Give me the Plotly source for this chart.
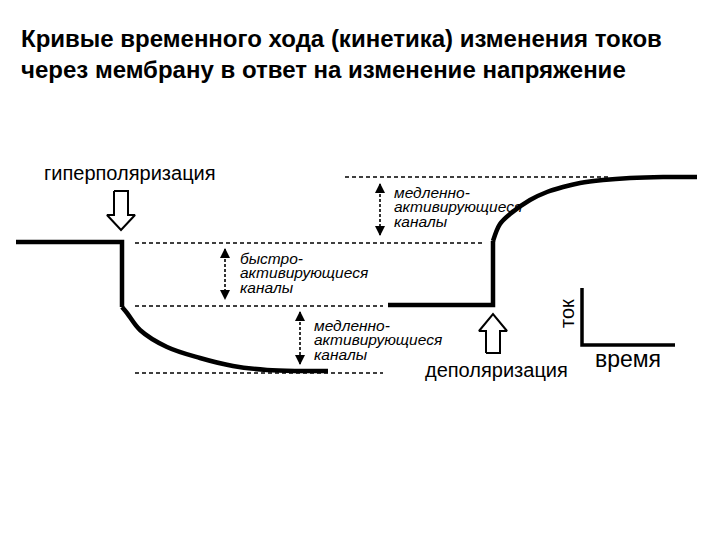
import plotly.graph_objects as go

# ---- data (pixel-like units: x = time, y = current, y grows downward) ----
hyper_step_x = [16, 122, 122]
hyper_step_y = [242, 242, 307]
hyper_decay_x = [122, 127, 140, 167, 200, 233, 267, 300, 328]
hyper_decay_y = [307, 313, 330, 347, 358, 366, 370, 371, 371]

depol_step_x = [388, 493, 493]
depol_step_y = [305, 305, 241]
depol_rise_x = [493, 500, 510, 530, 547, 563, 580, 603, 630, 663, 697]
depol_rise_y = [241, 224, 214, 200, 192, 187, 183, 180, 178, 177, 177]

level_y = [177, 243, 306, 373]           # dashed reference levels
level_x0 = [345, 135, 135, 135]
level_x1 = [610, 483, 383, 383]

span_x = [380, 225, 300]                 # double arrows
span_top = [180, 245, 308]
span_bot = [239, 303, 368]
span_label_x = [392, 238, 312]
span_label_lines = [
    ["медленно-", "активирующиеся", "каналы"],
    ["быстро-", "активирующиеся", "каналы"],
    ["медленно-", "активирующиеся", "каналы"],
]

title_lines = ["Кривые временного хода (кинетика) изменения токов",
               "через мембрану в ответ на изменение напряжение"]

fig = go.Figure()
BLACK = "#000000"

# dashed levels
for y, a, b in zip(level_y, level_x0, level_x1):
    fig.add_trace(go.Scatter(x=[a, b], y=[y, y], mode="lines",
                             line=dict(color=BLACK, width=1.6, dash="4px,3px"),
                             hoverinfo="skip"))

# curves
for xs, ys, shape in [(hyper_step_x, hyper_step_y, "linear"),
                      (hyper_decay_x, hyper_decay_y, "spline"),
                      (depol_step_x, depol_step_y, "linear"),
                      (depol_rise_x, depol_rise_y, "spline")]:
    fig.add_trace(go.Scatter(x=xs, y=ys, mode="lines",
                             line=dict(color=BLACK, width=4.5, shape=shape),
                             hoverinfo="skip"))

# dotted double arrows
for x, t, b in zip(span_x, span_top, span_bot):
    fig.add_trace(go.Scatter(x=[x, x], y=[t + 4, b - 4], mode="lines",
                             line=dict(color=BLACK, width=1.6, dash="3px,2px"),
                             hoverinfo="skip"))
    fig.add_trace(go.Scatter(x=[x, x], y=[t + 3, b - 3], mode="markers",
                             marker=dict(symbol=["arrow-up", "arrow-down"], size=10,
                                         color=BLACK, line=dict(width=0)),
                             hoverinfo="skip"))

# block arrows (outlined)
def block_arrow(cx, y_tail, y_tip, y_head, shaft=7, head=14):
    xs = [cx - shaft, cx + shaft, cx + shaft, cx + head, cx, cx - head, cx - shaft, cx - shaft]
    ys = [y_tail, y_tail, y_head, y_head, y_tip, y_head, y_head, y_tail]
    fig.add_trace(go.Scatter(x=xs, y=ys, mode="lines", fill="toself",
                             fillcolor="white", line=dict(color=BLACK, width=2),
                             hoverinfo="skip"))

block_arrow(121, 191, 230, 215)
block_arrow(493, 353, 314, 331)

# time/current glyph
fig.add_trace(go.Scatter(x=[582, 582, 675], y=[288, 345, 345], mode="lines",
                         line=dict(color=BLACK, width=3.5), hoverinfo="skip"))

ann = []
FONT = "Liberation Sans, Arial, sans-serif"
for i, line in enumerate(title_lines):
    ann.append(dict(x=19, y=38 + i * 31, text="<b>" + line + "</b>", xanchor="left",
                    yanchor="middle", showarrow=False,
                    font=dict(family=FONT, size=24, color=BLACK)))
for lx, lines, top in zip(span_label_x, span_label_lines, [192, 258, 325]):
    for j, t in enumerate(lines):
        ann.append(dict(x=lx, y=top + j * 14.5, text="<i>" + t + "</i>", xanchor="left",
                        yanchor="middle", showarrow=False,
                        font=dict(family=FONT, size=15.5, color=BLACK)))
ann.append(dict(x=130, y=173, text="гиперполяризация", showarrow=False,
                xanchor="center", yanchor="middle",
                font=dict(family=FONT, size=20, color=BLACK)))
ann.append(dict(x=496, y=370, text="деполяризация", showarrow=False,
                xanchor="center", yanchor="middle",
                font=dict(family=FONT, size=20, color=BLACK)))
ann.append(dict(x=628, y=359, text="время", showarrow=False,
                xanchor="center", yanchor="middle",
                font=dict(family=FONT, size=23, color=BLACK)))
ann.append(dict(x=567, y=314, text="ток", showarrow=False, textangle=-90,
                xanchor="center", yanchor="middle",
                font=dict(family=FONT, size=20, color=BLACK)))

# the page body adds an 8px offset, so the ranges are shifted by 8
fig.update_layout(
    width=720, height=540,
    margin=dict(l=0, r=0, t=0, b=0),
    paper_bgcolor="white", plot_bgcolor="white",
    showlegend=False,
    xaxis=dict(range=[8, 728], visible=False, fixedrange=True),
    yaxis=dict(range=[548, 8], visible=False, fixedrange=True),
    annotations=ann,
)

fig.write_html("out.html")
